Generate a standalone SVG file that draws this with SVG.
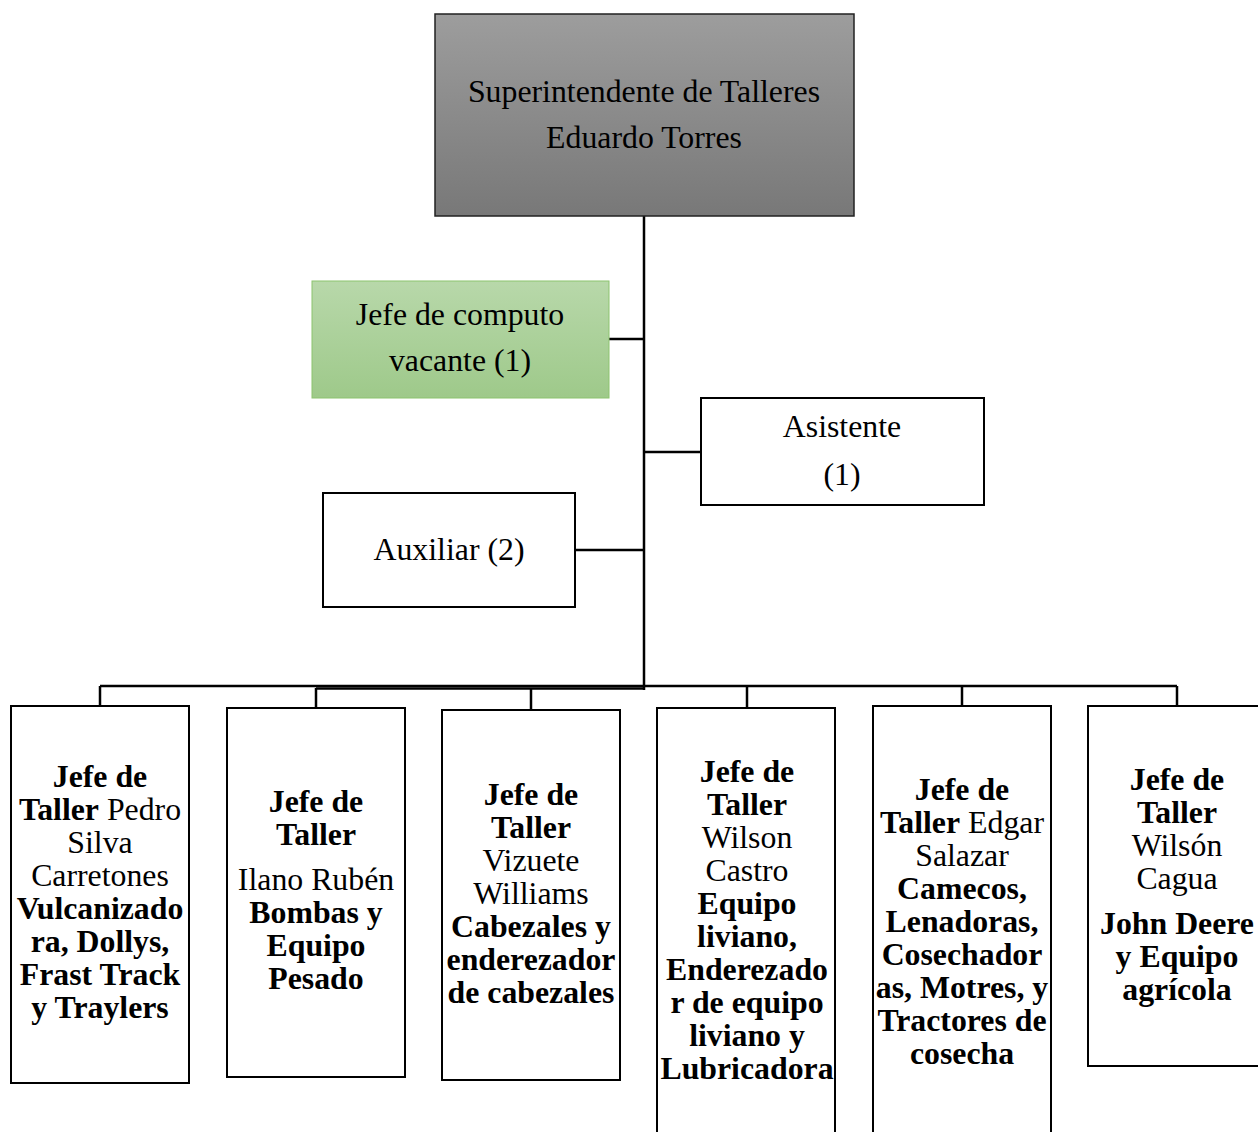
<svg xmlns="http://www.w3.org/2000/svg" width="1258" height="1132" viewBox="0 0 1258 1132" font-family="Liberation Serif, Times New Roman, serif">
<defs>
<linearGradient id="gGray" x1="0" y1="0" x2="0" y2="1"><stop offset="0" stop-color="#9d9d9d"/><stop offset="1" stop-color="#787878"/></linearGradient>
<linearGradient id="gGreen" x1="0" y1="0" x2="0" y2="1"><stop offset="0" stop-color="#b8d8aa"/><stop offset="1" stop-color="#9ec98a"/></linearGradient>
</defs>
<style>
text{font-family:'Liberation Serif',serif;font-size:31.8px;fill:#000;text-anchor:middle}
.b{font-weight:bold}
.box{fill:#fff;stroke:#000;stroke-width:2}
.ln{stroke:#000;stroke-width:2.5;fill:none}
</style>
<rect width="1258" height="1132" fill="#fff"/>
<g id="connectors">
<line class="ln" x1="644" y1="216" x2="644" y2="690" stroke-width="3"/>
<line class="ln" x1="609" y1="339" x2="644" y2="339"/>
<line class="ln" x1="644" y1="452" x2="701" y2="452"/>
<line class="ln" x1="575" y1="550" x2="644" y2="550"/>
<line class="ln" x1="100" y1="686" x2="1177" y2="686" stroke-width="2"/>
<line class="ln" x1="316" y1="688.5" x2="645" y2="688.5" stroke-width="3"/>
<line class="ln" x1="100" y1="686" x2="100" y2="706" stroke-width="2"/>
<line class="ln" x1="316" y1="688" x2="316" y2="708" stroke-width="2"/>
<line class="ln" x1="531" y1="688" x2="531" y2="710" stroke-width="2"/>
<line class="ln" x1="747" y1="686" x2="747" y2="708" stroke-width="2"/>
<line class="ln" x1="962" y1="686" x2="962" y2="706" stroke-width="2"/>
<line class="ln" x1="1177" y1="686" x2="1177" y2="706" stroke-width="2"/>
</g>
<g id="superintendente">
<rect x="435" y="14" width="419" height="202" fill="url(#gGray)" stroke="#222" stroke-width="1.5"/>
<text x="644" y="102">Superintendente de Talleres</text>
<text x="644" y="148">Eduardo Torres</text>
</g>
<g id="jefe-computo">
<rect x="312" y="281" width="297" height="117" fill="url(#gGreen)" stroke="#8cc36f" stroke-width="1"/>
<text x="460" y="325">Jefe de computo</text>
<text x="460" y="371">vacante (1)</text>
</g>
<g id="asistente">
<rect class="box" x="701" y="398" width="283" height="107"/>
<text x="842" y="437">Asistente</text>
<text x="842" y="485">(1)</text>
</g>
<g id="auxiliar">
<rect class="box" x="323" y="493" width="252" height="114"/>
<text x="449" y="560">Auxiliar (2)</text>
</g>
<g id="taller1">
<rect class="box" x="11" y="706" width="178" height="377"/>
<text x="100" y="787" class="b">Jefe de</text>
<text x="100" y="820"><tspan class="b">Taller</tspan> Pedro</text>
<text x="100" y="853">Silva</text>
<text x="100" y="886">Carretones</text>
<text x="100" y="919" class="b">Vulcanizado</text>
<text x="100" y="952" class="b">ra, Dollys,</text>
<text x="100" y="985" class="b">Frast Track</text>
<text x="100" y="1018" class="b">y Traylers</text>
</g>
<g id="taller2">
<rect class="box" x="227" y="708" width="178" height="369"/>
<text x="316" y="812" class="b">Jefe de</text>
<text x="316" y="845" class="b">Taller</text>
<text x="316" y="890">Ilano Rubén</text>
<text x="316" y="923" class="b">Bombas y</text>
<text x="316" y="956" class="b">Equipo</text>
<text x="316" y="989" class="b">Pesado</text>
</g>
<g id="taller3">
<rect class="box" x="442" y="710" width="178" height="370"/>
<text x="531" y="805" class="b">Jefe de</text>
<text x="531" y="838" class="b">Taller</text>
<text x="531" y="871">Vizuete</text>
<text x="531" y="904">Williams</text>
<text x="531" y="937" class="b">Cabezales y</text>
<text x="531" y="970" class="b">enderezador</text>
<text x="531" y="1003" class="b">de cabezales</text>
</g>
<g id="taller4">
<rect class="box" x="657" y="708" width="178" height="440"/>
<text x="747" y="782" class="b">Jefe de</text>
<text x="747" y="815" class="b">Taller</text>
<text x="747" y="848">Wilson</text>
<text x="747" y="881">Castro</text>
<text x="747" y="914" class="b">Equipo</text>
<text x="747" y="947" class="b">liviano,</text>
<text x="747" y="980" class="b">Enderezado</text>
<text x="747" y="1013" class="b">r de equipo</text>
<text x="747" y="1046" class="b">liviano y</text>
<text x="747" y="1079" class="b">Lubricadora</text>
</g>
<g id="taller5">
<rect class="box" x="873" y="706" width="178" height="440"/>
<text x="962" y="800" class="b">Jefe de</text>
<text x="962" y="833"><tspan class="b">Taller</tspan> Edgar</text>
<text x="962" y="866">Salazar</text>
<text x="962" y="899" class="b">Camecos,</text>
<text x="962" y="932" class="b">Lenadoras,</text>
<text x="962" y="965" class="b">Cosechador</text>
<text x="962" y="998" class="b">as, Motres, y</text>
<text x="962" y="1031" class="b">Tractores de</text>
<text x="962" y="1064" class="b">cosecha</text>
</g>
<g id="taller6">
<rect class="box" x="1088" y="706" width="190" height="360"/>
<text x="1177" y="790" class="b">Jefe de</text>
<text x="1177" y="823" class="b">Taller</text>
<text x="1177" y="856">Wilsón</text>
<text x="1177" y="889">Cagua</text>
<text x="1177" y="934" class="b">John Deere</text>
<text x="1177" y="967" class="b">y Equipo</text>
<text x="1177" y="1000" class="b">agrícola</text>
</g>
</svg>
